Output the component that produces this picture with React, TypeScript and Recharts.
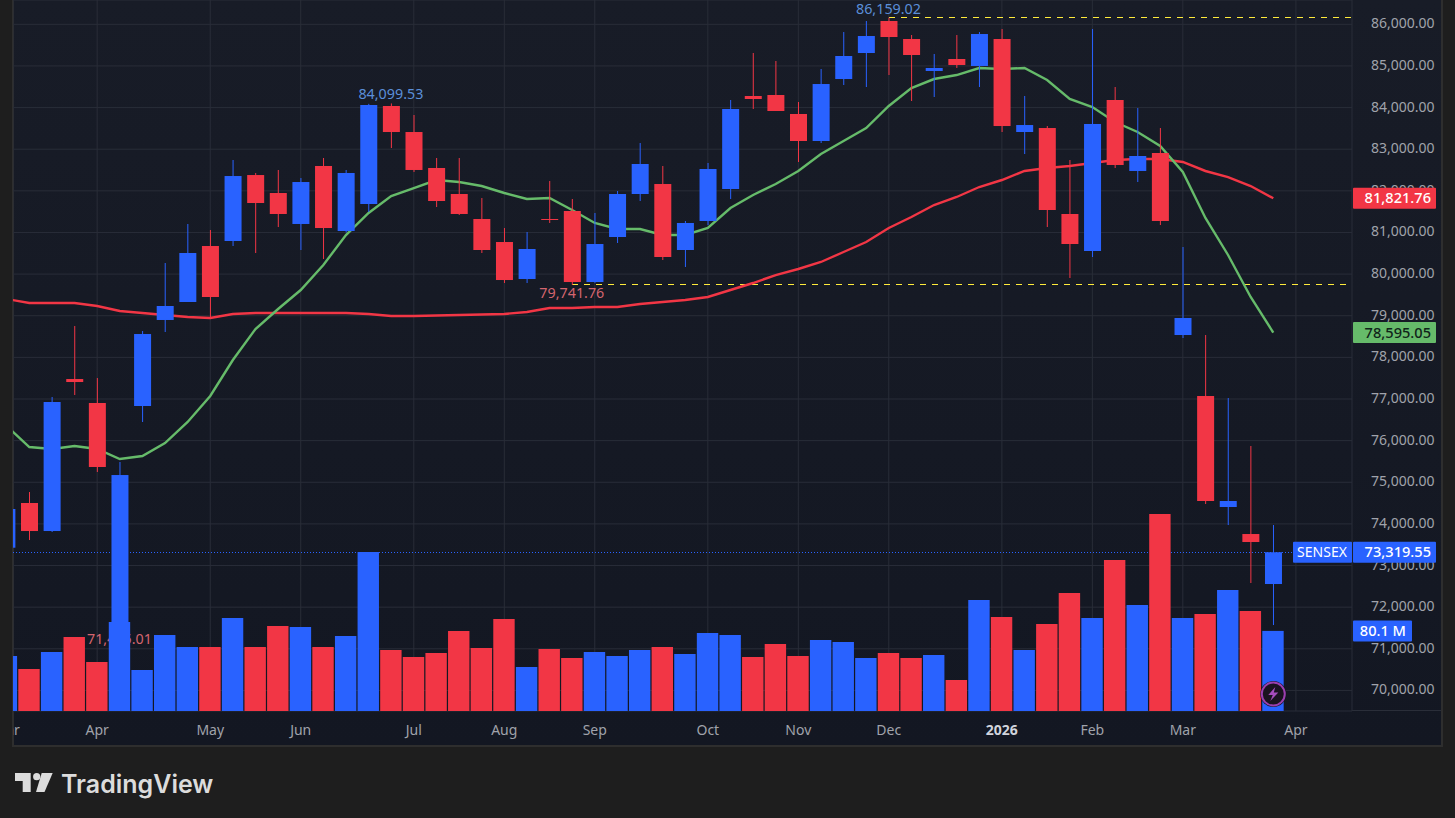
import { Bar, CartesianGrid, ComposedChart, Line, ReferenceDot, ReferenceLine, XAxis, YAxis } from "recharts";

const BLUE = "#2962ff";
const RED = "#f23645";
const GREEN = "#66bb6a";
const YELLOW = "#ffeb3b";

const opens = [73428, 74502, 73829, 77480, 76904, 71499, 76832, 78898, 79330, 80675, 80795, 82380, 81948, 81204, 82597, 81035, 81684, 84038, 83413, 82549, 81924, 81324, 80771, 79882, 81324, 81516, 79810, 80891, 81924, 82164, 80579, 81276, 82044, 84278, 84302, 83846, 83197, 84686, 85311, 86080, 85647, 84879, 85167, 84999, 85647, 83413, 83509, 81444, 80555, 84182, 82477, 82909, 78537, 77072, 74406, 73757, 72556];
const highs = [74358, 74766, 77048, 78753, 77504, 75487, 78633, 80267, 81204, 81059, 82741, 82429, 82501, 82308, 82789, 82501, 84090, 84099.53, 83822, 82789, 82789, 81828, 81107, 81011, 82236, 81804, 81468, 81996, 83149, 82597, 81276, 82669, 84182, 85311, 85119, 84134, 84927, 85815, 86080, 86159.02, 85743, 85287, 85743, 85815, 85887, 84278, 83557, 82741, 85887, 84494, 83990, 83509, 80651, 78537, 77024, 75871, 73973];
const lows = [73428, 73613, 73805, 77096, 75247, 71425.01, 76448, 78609, 79330, 78946, 80675, 80507, 81131, 80579, 80363, 81000, 81492, 83029, 82453, 81612, 81420, 80507, 79786, 79786, 81228, 79741.76, 79790, 80747, 81756, 80339, 80171, 81179, 81804, 83966, 83918, 82693, 83149, 84542, 84494, 84782, 84158, 84254, 84951, 84494, 83413, 82885, 81131, 79906, 80411, 82549, 82212, 81179, 78465, 74478, 73973, 72580, 71571];
const closes = [74358, 73829, 76928, 77408, 75367, 75174, 78561, 79234, 80507, 79450, 82356, 81708, 81444, 82212, 81107, 82429, 84062, 83413, 82501, 81756, 81444, 80579, 79858, 80603, 81300, 79810, 80723, 81924, 82645, 80411, 81228, 82525, 83966, 84206, 83918, 83197, 84566, 85239, 85719, 85695, 85263, 84951, 85023, 85767, 83557, 83581, 81540, 80723, 83606, 82621, 82837, 81276, 78946, 74550, 74550, 73565, 73319.55];
const volumes = [55, 42, 59, 74, 49, 89, 41, 76, 64, 64, 93, 64, 85, 84, 64, 75, 159, 61, 54, 58, 80, 63, 92, 44, 62, 53, 59, 55, 61, 64, 57, 78, 76, 54, 67, 55, 71, 69, 53, 58, 53, 56, 31, 111, 94, 61, 87, 118, 93, 151, 106, 197, 93, 97, 121, 100, 80.1];
const fastMa = [76351, 75847, 75799, 75871, 75799, 75559, 75631, 75943, 76448, 77072, 77937, 78681, 79162, 79618, 80219, 80939, 81468, 81876, 82068, 82260, 82212, 82116, 81948, 81804, 81828, 81540, 81228, 81083, 81083, 80939, 80939, 81107, 81588, 81900, 82164, 82477, 82885, 83197, 83509, 84038, 84470, 84686, 84782, 84951, 84927, 84951, 84662, 84206, 84014, 83654, 83413, 83077, 82453, 81348, 80459, 79450, 78595.05];
const slowMa = [79402, 79306, 79306, 79306, 79234, 79114, 79066, 79018, 78970, 78946, 79042, 79066, 79066, 79066, 79066, 79066, 79042, 78994, 78994, 79006, 79018, 79030, 79042, 79090, 79186, 79186, 79210, 79210, 79282, 79330, 79378, 79450, 79618, 79786, 79978, 80123, 80291, 80531, 80771, 81107, 81372, 81660, 81852, 82092, 82260, 82477, 82549, 82597, 82669, 82741, 82765, 82765, 82693, 82477, 82332, 82116, 81821.76];

const priceTicks = [70000, 71000, 72000, 73000, 74000, 75000, 76000, 77000, 78000, 79000, 80000, 81000, 82000, 83000, 84000, 85000, 86000];
const monthTicks = [0, 4, 9, 13, 18, 22, 26, 31, 35, 39, 44, 48, 52, 57];
const monthLabels = ["Mar", "Apr", "May", "Jun", "Jul", "Aug", "Sep", "Oct", "Nov", "Dec", "2026", "Feb", "Mar", "Apr"];

const highLabels: Record<number, string> = { 17: "84,099.53", 39: "86,159.02" };
const lowLabels: Record<number, string> = { 5: "71,425.01", 25: "79,741.76" };

const rows = opens.map((open, i) => ({
  idx: i,
  open,
  high: highs[i],
  low: lows[i],
  close: closes[i],
  volume: volumes[i],
  fast: fastMa[i],
  slow: slowMa[i],
}));

const FONT = "'Noto Sans', sans-serif";
const fmt = (v: number) => v.toLocaleString("en-US", { minimumFractionDigits: 2, maximumFractionDigits: 2 });

const Candle = (props: any) => {
  const { x, y, width, height, payload } = props;
  const { open, high, low, close, idx } = payload;
  const cx = x + width / 2;
  const perUnit = height / (high - low);
  const top = y + (high - Math.max(open, close)) * perUnit;
  const bottom = y + (high - Math.min(open, close)) * perUnit;
  const color = close >= open ? BLUE : RED;
  return (
    <g>
      <rect x={cx - 0.5} y={y} width={1} height={height} fill={color} />
      <rect x={cx - 8.5} y={top} width={17} height={Math.max(bottom - top, 1)} fill={color} />
      {highLabels[idx] && (
        <text x={cx - 0.5} y={y - 4} textAnchor="middle" fontSize={14.3} fontFamily={FONT} fill="#5b8fd9">
          {highLabels[idx]}
        </text>
      )}
      {lowLabels[idx] && (
        <text x={cx - 0.5} y={y + height + 13} textAnchor="middle" fontSize={14.3} fontFamily={FONT} fill="#d4656f">
          {lowLabels[idx]}
        </text>
      )}
    </g>
  );
};

const VolumeBar = (props: any) => {
  const { x, y, width, height, payload } = props;
  return (
    <rect
      x={x + width / 2 - 11.2}
      y={y}
      width={21.4}
      height={height}
      fill={payload.close >= payload.open ? BLUE : RED}
    />
  );
};

const MonthTick = (props: any) => {
  const { x, y, payload, index } = props;
  const label = monthLabels[index];
  const bold = payload.value === 44;
  return (
    <text
      x={x}
      y={y + 16}
      textAnchor="middle"
      fontFamily={FONT}
      fontSize={14}
      fontWeight={bold ? 700 : 400}
      fill={bold ? "#d1d4dc" : "#a0a3ab"}
    >
      {label}
    </text>
  );
};

// price tag on the axis, sits on the value's own y
const Badge = ({ viewBox, text, bg, color = "#fff", tag }: any) => {
  const y = viewBox.y;
  return (
    <g fontFamily={FONT} fontSize={14}>
      {tag && (
        <>
          <rect x={1293} y={y - 10.5} width={59} height={21} fill={bg} rx={1} />
          <text x={1322} y={y + 5} textAnchor="middle" fill={color}>{tag}</text>
        </>
      )}
      <rect x={1353} y={y - 10.5} width={83} height={21} fill={bg} rx={1} />
      <text x={1431} y={y + 5} textAnchor="end" fontSize={14.6} fontWeight={500} fill={color}>{text}</text>
    </g>
  );
};

const VolumeBadge = ({ viewBox, text }: any) => (
  <g fontFamily={FONT} fontSize={14}>
    <rect x={1353} y={viewBox.y - 10.5} width={59} height={21} fill={BLUE} rx={1} />
    <text x={1406} y={viewBox.y + 5} textAnchor="end" fontSize={14.6} fontWeight={500} fill="#fff">{text}</text>
  </g>
);

const Bolt = ({ cx, cy }: any) => (
  <g>
    <circle cx={cx} cy={cy} r={13} fill="#131722" />
    <circle cx={cx} cy={cy} r={11.5} fill="#1a1320" stroke="#9c3fb0" strokeWidth={2} />
    <path
      d={`M${cx + 2} ${cy - 7} L${cx - 5} ${cy + 1} H${cx - 0.5} L${cx - 3} ${cy + 7} L${cx + 5} ${cy - 1.5} H${cx + 0.5} Z`}
      fill="#a64cbd"
    />
  </g>
);

const PriceTick = (props: any) => {
  const { x, y, payload } = props;
  return (
    <text x={x + 11} y={y + 4} fontFamily={FONT} fontSize={14} fill="#a0a3ab">
      {fmt(payload.value)}
    </text>
  );
};

export default function App() {
  return (
    <div style={{ position: "absolute", left: 0, top: 0, width: 1455, height: 818, overflow: "hidden", background: "#1e1e1e" }}>
      <div
        style={{
          position: "absolute",
          left: 12,
          top: 0,
          width: 1431,
          height: 747,
          boxSizing: "border-box",
          border: "2px solid #2e2e2e",
          borderTop: "none",
          background: "linear-gradient(#181c27, #131722)",
        }}
      />
      <div style={{ position: "absolute", left: 1352, top: 710, width: 89, height: 1, background: "#2a2e39" }} />
      <div style={{ position: "absolute", left: 0, top: 0 }}>
        <ComposedChart
          width={1455}
          height={818}
          data={rows}
          margin={{ top: 0, right: 0, bottom: 72, left: 13 }}
          style={{ background: "transparent" }}
        >
          <CartesianGrid xAxisId="x" yAxisId="price" stroke="#292d38" strokeWidth={1} />
          <XAxis
            xAxisId="x"
            dataKey="idx"
            type="number"
            domain={[0.279, 59.48]}
            allowDataOverflow
            ticks={monthTicks}
            interval={0}
            height={35}
            tickLine={false}
            axisLine={false}
            tick={<MonthTick />}
          />
          <XAxis xAxisId="xv" dataKey="idx" type="number" domain={[0.279, 59.48]} allowDataOverflow hide />
          <YAxis
            yAxisId="price"
            orientation="right"
            domain={[69506, 86584]}
            allowDataOverflow
            ticks={priceTicks}
            interval={0}
            width={103}
            tickLine={false}
            axisLine={false}
            tick={<PriceTick />}
          />
          <YAxis yAxisId="vol" hide domain={[0, 711]} allowDataOverflow />

          <ReferenceLine
            xAxisId="x"
            yAxisId="price"
            segment={[{ x: 39, y: 86159.02 }, { x: 59.48, y: 86159.02 }]}
            stroke={YELLOW}
            strokeDasharray="6 6"
            shapeRendering="crispEdges"
            zIndex={250}
          />
          <ReferenceLine
            xAxisId="x"
            yAxisId="price"
            segment={[{ x: 25, y: 79741.76 }, { x: 59.48, y: 79741.76 }]}
            stroke={YELLOW}
            strokeDasharray="6 6"
            shapeRendering="crispEdges"
            zIndex={250}
          />
          <ReferenceLine xAxisId="x" yAxisId="price" y={73319.55} stroke={BLUE} strokeDasharray="1 2" shapeRendering="crispEdges" zIndex={250} />

          <Line xAxisId="x" yAxisId="price" dataKey="slow" stroke={RED} strokeWidth={2.4} dot={false} type="linear" isAnimationActive={false} zIndex={260} />
          <Line xAxisId="x" yAxisId="price" dataKey="fast" stroke={GREEN} strokeWidth={2.4} dot={false} type="linear" isAnimationActive={false} zIndex={260} />
          <Bar xAxisId="x" yAxisId="price" dataKey={(d: any) => [d.low, d.high]} barSize={17} shape={<Candle />} isAnimationActive={false} zIndex={300} />
          <Bar xAxisId="xv" yAxisId="vol" dataKey="volume" barSize={21} shape={<VolumeBar />} isAnimationActive={false} zIndex={310} />

          <ReferenceDot xAxisId="x" yAxisId="price" x={56} y={69914} shape={<Bolt />} ifOverflow="visible" zIndex={2100} />
          <ReferenceLine xAxisId="x" yAxisId="price" y={81821.76} stroke="none" ifOverflow="visible" label={<Badge text="81,821.76" bg={RED} />} zIndex={2100} />
          <ReferenceLine xAxisId="x" yAxisId="price" y={78595.05} stroke="none" ifOverflow="visible" label={<Badge text="78,595.05" bg={GREEN} color="#10241a" />} zIndex={2100} />
          <ReferenceLine xAxisId="x" yAxisId="price" y={73319.55} stroke="none" ifOverflow="visible" label={<Badge text="73,319.55" bg={BLUE} tag="SENSEX" />} zIndex={2100} />
          <ReferenceLine xAxisId="xv" yAxisId="vol" y={80.1} stroke="none" ifOverflow="visible" label={<VolumeBadge text="80.1 M" />} zIndex={2100} />
        </ComposedChart>
      </div>
      <div style={{ position: "absolute", left: 0, top: 0, width: 13, height: 747, background: "#1e1e1e", borderRight: "1px solid #2e2e2e", boxSizing: "border-box" }} />
      <svg style={{ position: "absolute", left: 14, top: 771 }} width={42} height={24}>
        <path d="M1 2 H16.7 V21 H8.7 V10 H1 Z" fill="#dcdcdc" />
        <circle cx={22.7} cy={5.7} r={3.6} fill="#dcdcdc" />
        <path d="M27.7 2 H38.7 L30.5 21 H22 Z" fill="#dcdcdc" />
      </svg>
      <div style={{ position: "absolute", left: 61, top: 767, fontFamily: "Inter, sans-serif", fontWeight: 600, fontSize: 25, lineHeight: "34px", color: "#dcdcdc" }}>
        TradingView
      </div>
    </div>
  );
}
